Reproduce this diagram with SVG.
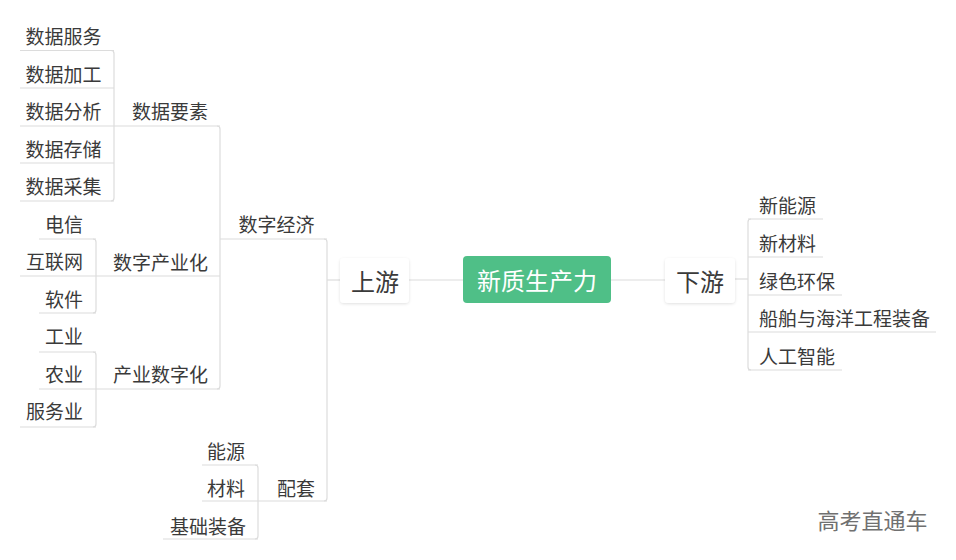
<svg xmlns="http://www.w3.org/2000/svg" width="956" height="560" viewBox="0 0 956 560">
<style>
text{font-family:"Noto Sans CJK SC","Noto Sans",sans-serif;fill:#3a3a3a}
.leaf{font-size:19px}
.m{text-anchor:middle}
.s{text-anchor:start}
.big{font-size:24px}
.ul{stroke:#dcdcdc;stroke-width:1.2;fill:none}
.br{stroke:#dcdcdc;stroke-width:1.2;fill:none}
.box{fill:#ffffff;filter:url(#sh)}
</style>
<defs>
<filter id="sh" x="-20%" y="-20%" width="140%" height="150%">
<feDropShadow dx="0" dy="1" stdDeviation="1.5" flood-color="#000" flood-opacity="0.12"/>
</filter>
</defs>
<rect width="956" height="560" fill="#fff"/>
<g id="connectors">
<path class="br" d="M111,50.5 Q114,50.5 114,53.5 V198 Q114,201 111,201"/>
<path class="br" d="M93,239 Q96,239 96,242 V310 Q96,313 93,313"/>
<path class="br" d="M93,352 Q96,352 96,355 V424 Q96,427 93,427"/>
<path class="br" d="M217,126 Q220,126 220,129 V386 Q220,389 217,389"/>
<path class="br" d="M255,465 Q258,465 258,468 V536 Q258,539 255,539"/>
<path class="br" d="M324,239 Q327,239 327,242 V498 Q327,501 324,501"/>
<path class="br" d="M327,280 H340"/>
<path class="br" d="M409,280 H463"/>
<path class="br" d="M611,280 H665"/>
<path class="br" d="M735,279 H748"/>
<path class="br" d="M751,219 Q748,219 748,222 V367 Q748,370 751,370"/>
</g>
<g id="n-center"><rect x="463" y="256" width="148" height="47" rx="4" fill="#4fbf87"/><text class="big m" x="537" y="290" style="fill:#fff">新质生产力</text></g>
<g id="n-upstream"><rect class="box" x="340" y="258" width="69" height="45" rx="4"/><text class="big m" x="375" y="291">上游</text></g>
<g id="n-downstream"><rect class="box" x="665" y="258" width="70" height="45" rx="4"/><text class="big m" x="700" y="291">下游</text></g>
<g id="n-shuzijingji"><path class="ul" d="M220,239 H327"/><text class="leaf m" x="276.5" y="232">数字经济</text></g>
<g id="n-peitao"><path class="ul" d="M258,501 H327"/><text class="leaf m" x="296" y="496">配套</text></g>
<g id="n-shujuyaosu"><path class="ul" d="M114,126 H220"/><text class="leaf m" x="170" y="119">数据要素</text></g>
<g id="n-shuzichanyehua"><path class="ul" d="M96,276 H220"/><text class="leaf m" x="160.5" y="270">数字产业化</text></g>
<g id="n-chanyeshuzihua"><path class="ul" d="M96,389 H220"/><text class="leaf m" x="160.5" y="382">产业数字化</text></g>
<g id="n-sjfw"><path class="ul" d="M20,50.5 H114"/><text class="leaf m" x="63.5" y="44">数据服务</text></g>
<g id="n-sjjg"><path class="ul" d="M20,88 H114"/><text class="leaf m" x="63.5" y="82">数据加工</text></g>
<g id="n-sjfx"><path class="ul" d="M20,126 H114"/><text class="leaf m" x="63.5" y="119">数据分析</text></g>
<g id="n-sjcc"><path class="ul" d="M20,163 H114"/><text class="leaf m" x="63.5" y="157">数据存储</text></g>
<g id="n-sjcj"><path class="ul" d="M20,201 H114"/><text class="leaf m" x="63.5" y="194">数据采集</text></g>
<g id="n-dianxin"><path class="ul" d="M39,239 H96"/><text class="leaf m" x="64" y="232">电信</text></g>
<g id="n-hulianwang"><path class="ul" d="M20,276 H96"/><text class="leaf m" x="54.5" y="269">互联网</text></g>
<g id="n-ruanjian"><path class="ul" d="M39,313 H96"/><text class="leaf m" x="64" y="307">软件</text></g>
<g id="n-gongye"><path class="ul" d="M39,352 H96"/><text class="leaf m" x="64" y="344">工业</text></g>
<g id="n-nongye"><path class="ul" d="M39,389 H96"/><text class="leaf m" x="64" y="382">农业</text></g>
<g id="n-fuwuye"><path class="ul" d="M20,427 H96"/><text class="leaf m" x="54.5" y="419">服务业</text></g>
<g id="n-nengyuan"><path class="ul" d="M202,465 H258"/><text class="leaf m" x="226" y="459">能源</text></g>
<g id="n-cailiao"><path class="ul" d="M202,501 H258"/><text class="leaf m" x="226" y="496">材料</text></g>
<g id="n-jichuzhuangbei"><path class="ul" d="M163,539 H258"/><text class="leaf m" x="208" y="534">基础装备</text></g>
<g id="n-xinnengyuan"><path class="ul" d="M748,219 H823"/><text class="leaf s" x="759" y="213">新能源</text></g>
<g id="n-xincailiao"><path class="ul" d="M748,257 H823"/><text class="leaf s" x="759" y="251">新材料</text></g>
<g id="n-lvse"><path class="ul" d="M748,295 H842"/><text class="leaf s" x="759" y="289">绿色环保</text></g>
<g id="n-chuanbo"><path class="ul" d="M748,332 H936"/><text class="leaf s" x="759" y="326">船舶与海洋工程装备</text></g>
<g id="n-rengong"><path class="ul" d="M748,370 H842"/><text class="leaf s" x="759" y="364">人工智能</text></g>
<text x="872.5" y="529" style="font-size:22px;fill:#707070;text-anchor:middle">高考直通车</text>
</svg>
